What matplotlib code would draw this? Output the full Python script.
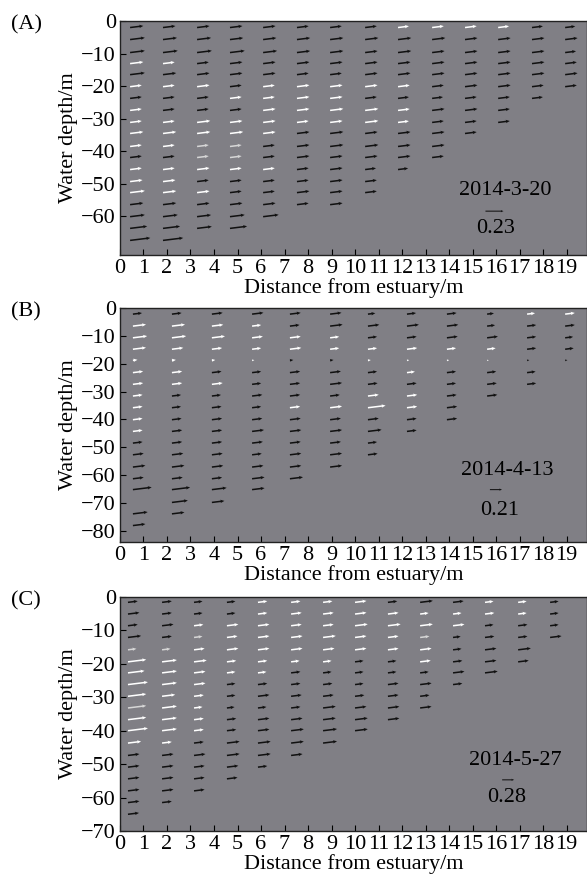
import matplotlib
matplotlib.use("Agg")
import matplotlib.pyplot as plt
import numpy as np

plt.rcParams['font.family'] = ['Liberation Serif', 'DejaVu Serif']
plt.rcParams['font.size'] = 16

nan = np.nan

# ---------------- panel A : 2014-3-20 ----------------
A_x = [0.43, 1.83, 3.28, 4.68, 6.09, 7.53, 8.94, 10.43, 11.83, 13.28, 14.68, 16.09, 17.53, 18.94]
A_depth = [-2.0, -5.7, -9.7, -13.1, -16.5, -20.2, -23.8, -27.5, -31.2, -34.6,
           -38.6, -42.0, -45.7, -49.4, -52.8, -56.5, -60.2, -63.8, -67.5]
A_speed = [
    [0.17, 0.19, 0.19, 0.17, 0.19, 0.15, 0.15, 0.15, 0.15, 0.17, 0.15, 0.15, 0.15, 0.16, 0.19, 0.17, 0.19, 0.22, 0.26],
    [0.16, 0.18, 0.19, 0.15, 0.17, 0.15, 0.15, 0.15, 0.15, 0.17, 0.15, 0.15, 0.15, 0.16, 0.17, 0.17, 0.19, 0.22, 0.26],
    [0.16, 0.18, 0.19, 0.15, 0.16, 0.16, 0.15, 0.15, 0.17, 0.17, 0.15, 0.15, 0.16, 0.15, 0.16, 0.16, 0.18, 0.19],
    [0.16, 0.17, 0.19, 0.16, 0.16, 0.15, 0.15, 0.15, 0.16, 0.17, 0.15, 0.15, 0.15, 0.15, 0.15, 0.16, 0.19, 0.22],
    [0.16, 0.17, 0.18, 0.16, 0.16, 0.15, 0.15, 0.16, 0.16, 0.16, 0.15, 0.15, 0.15, 0.15, 0.15, 0.16, 0.20],
    [0.15, 0.17, 0.17, 0.16, 0.15, 0.16, 0.16, 0.16, 0.15, 0.16, 0.16, 0.16, 0.15, 0.15, 0.16, 0.15],
    [0.15, 0.17, 0.17, 0.16, 0.15, 0.16, 0.16, 0.17, 0.16, 0.17, 0.17, 0.16, 0.16, 0.16, 0.16, 0.16],
    [0.15, 0.17, 0.16, 0.16, 0.16, 0.16, 0.15, 0.17, 0.17, 0.16, 0.17, 0.16, 0.14, 0.15, 0.15],
    [0.14, 0.17, 0.17, 0.16, 0.16, 0.15, 0.14, 0.15, 0.14, 0.16, 0.16, 0.16, 0.13],
    [0.15, 0.17, 0.16, 0.16, 0.16, 0.15, 0.14, 0.16, 0.15, 0.16, 0.16, 0.15],
    [0.15, 0.16, 0.16, 0.16, 0.16, 0.16, 0.15, 0.16, 0.15, 0.15],
    [0.14, 0.16, 0.16, 0.16, 0.16, 0.16, 0.15, 0.15, 0.15],
    [0.14, 0.16, 0.16, 0.16, 0.16, 0.15, 0.14],
    [0.13, 0.16, 0.14, 0.15, 0.16, 0.15],
]
A_color = [
    "BBBWBWBWWWWBWWWBBBB",
    "BBBWBWBBWWWBWWWBBBB",
    "BBBBBWBBWWLLWBWBBB",
    "BBBBBBWBWWLLWBBBBB",
    "BBBBBWWWWWBBWBBBB",
    "BBBBBWWWWBBBBBBB",
    "BBBBBWWWWBBBBBBB",
    "BBBBBWBWWBBBBBB",
    "WBBBBWBWWBBBB",
    "WBBBBBBBBBBB",
    "WBBBBBBBBB",
    "WBBBBBBBB",
    "BBBBBBB",
    "BBBBBB",
]
A_date = "2014-3-20"
A_ref = 0.23
A_yticks = [0, -10, -20, -30, -40, -50, -60]

# ---------------- panel B : 2014-4-13 ----------------
B_x = [0.55, 2.21, 3.91, 5.62, 7.23, 8.94, 10.55, 12.21, 13.91, 15.62, 17.32, 18.94]
B_depth = [-2.2, -6.5, -10.7, -14.8, -18.8, -23.2, -27.4, -31.6, -35.8, -40.1,
           -44.3, -48.5, -52.7, -57.1, -61.3, -65.2, -69.8, -73.9, -78.1]
B_speed = [
    [0.16, 0.23, 0.25, 0.23, 0.08, 0.18, 0.18, 0.17, 0.17, 0.17, 0.17, 0.17, 0.19, 0.22, 0.19, 0.33, nan, 0.26, 0.22],
    [0.17, 0.23, 0.25, 0.20, 0.07, 0.18, 0.18, 0.16, 0.16, 0.17, 0.18, 0.18, 0.20, 0.22, 0.19, 0.32, 0.28, 0.22],
    [0.19, 0.20, 0.23, 0.18, 0.06, 0.17, 0.19, 0.16, 0.17, 0.18, 0.18, 0.18, 0.19, 0.20, 0.18, 0.26, 0.22],
    [0.20, 0.16, 0.19, 0.16, 0.04, 0.16, 0.16, 0.18, 0.16, 0.18, 0.21, 0.19, 0.17, 0.20, 0.22, 0.22],
    [0.19, 0.17, 0.19, 0.20, 0.06, 0.18, 0.18, 0.18, 0.18, 0.19, 0.20, 0.19, 0.20, 0.20, 0.23],
    [0.20, 0.22, 0.16, 0.16, 0.06, 0.19, 0.21, 0.17, 0.21, 0.19, 0.21, 0.19, 0.21, 0.21],
    [0.13, 0.20, 0.16, 0.16, 0.05, 0.16, 0.17, 0.19, 0.31, 0.19, 0.24, 0.16, 0.17],
    [0.16, 0.21, 0.17, 0.18, 0.04, 0.14, 0.17, 0.18, 0.18, 0.17, 0.17],
    [0.17, 0.20, 0.19, 0.16, 0.04, 0.16, 0.16, 0.17, 0.18, 0.18],
    [0.12, 0.14, 0.19, 0.15, 0.03, 0.16, 0.17, 0.18],
    [0.14, 0.16, 0.16, 0.16, 0.04, 0.15, 0.16],
    [0.17, 0.17, 0.14, 0.15, 0.04],
]
B_color = [
    "BWWWWWWWWWWBBBBBBBB",
    "BWWWWWWBBBBBBBBBBB",
    "BWWWWBWBBBBBBBBBB",
    "BWWWWBBBBBBBBBBB",
    "BBWWBBBBWBBBBBB",
    "BBWWBBBBWBBBBB",
    "BBBWWBBWWBBBB",
    "BBBWWWBWWBB",
    "BBBWWBBBBB",
    "BBBWWBBB",
    "WBBBBBB",
    "WBBBB",
]
B_date = "2014-4-13"
B_ref = 0.21
B_yticks = [0, -10, -20, -30, -40, -50, -60, -70, -80]

# ---------------- panel C : 2014-5-27 ----------------
C_x = [0.34, 1.79, 3.15, 4.55, 5.87, 7.28, 8.64, 10.0, 11.40, 12.77, 14.17, 15.53, 16.94, 18.30]
C_depth = [-1.6, -5.1, -8.6, -12.1, -15.8, -19.4, -22.7, -26.2, -29.7, -33.2,
           -36.7, -40.0, -43.7, -47.4, -50.9, -54.4, -58.0, -61.5, -65.0]
C_speed = [
    [0.23, 0.27, 0.23, 0.31, 0.20, 0.43, 0.39, 0.47, 0.43, 0.43, 0.43, 0.47, 0.31, 0.27, 0.27, 0.27, 0.27, 0.27, 0.26],
    [0.23, 0.23, 0.27, 0.23, 0.20, 0.35, 0.35, 0.35, 0.31, 0.35, 0.35, 0.35, 0.23, 0.27, 0.27, 0.27, 0.27, 0.23],
    [0.20, 0.20, 0.22, 0.20, 0.25, 0.30, 0.27, 0.27, 0.23, 0.20, 0.23, 0.23, 0.23, 0.27, 0.25, 0.25, 0.25],
    [0.20, 0.20, 0.27, 0.25, 0.27, 0.22, 0.20, 0.20, 0.20, 0.18, 0.22, 0.22, 0.30, 0.30, 0.27, 0.25],
    [0.22, 0.22, 0.27, 0.27, 0.27, 0.22, 0.20, 0.22, 0.27, 0.20, 0.27, 0.27, 0.30, 0.30, 0.22],
    [0.22, 0.25, 0.25, 0.27, 0.27, 0.20, 0.22, 0.22, 0.25, 0.22, 0.27, 0.30, 0.30, 0.27],
    [0.22, 0.25, 0.25, 0.30, 0.27, 0.20, 0.20, 0.22, 0.25, 0.30, 0.30, 0.33, 0.33],
    [0.27, 0.27, 0.30, 0.27, 0.27, 0.20, 0.20, 0.20, 0.22, 0.27, 0.30, 0.30],
    [0.22, 0.25, 0.30, 0.25, 0.25, 0.20, 0.20, 0.25, 0.25, 0.27, 0.27],
    [0.30, 0.20, 0.30, 0.22, 0.27, 0.25, 0.20, 0.27, 0.22, 0.27],
    [0.25, 0.20, 0.27, 0.18, 0.20, 0.22, 0.27, 0.22],
    [0.20, 0.22, 0.20, 0.22, 0.27, 0.27, 0.30],
    [0.20, 0.20, 0.22, 0.22, 0.30, 0.25],
    [0.20, 0.20, 0.20, 0.27],
]
C_color = [
    "BBBBLWWWWLWWWBBBBBB",
    "BBBBLWWWWWWWWBBBBB",
    "BBWLWWWWWWWWBBBBB",
    "BBWWWWWBBBBBBBBB",
    "WWWWWWWBBBBBBBB",
    "WWWWWWBBBBBBBB",
    "WWWWWWBBBBBBB",
    "WWWWWBBBBBBB",
    "BWWWWBBBBBB",
    "BWWLWWBBBB",
    "BWWBBBBB",
    "WWBBBBB",
    "WWBBBB",
    "BBBB",
]
C_date = "2014-5-27"
C_ref = 0.28
C_yticks = [0, -10, -20, -30, -40, -50, -60, -70]

# ---------------- styling ----------------
BG = '#807f85'
ARROW_COLORS = {'B': '#111111', 'W': '#ffffff', 'L': '#d6d6d6'}
ANGLE = np.deg2rad(7)
ARROW_KW = dict(angles='uv', scale_units='x', pivot='tail', zorder=3,
                headwidth=2.2, headlength=2.6, headaxislength=2.3)

panels = [
    # label, x, depth, speed, colour, date, ref, yticks, ylim, quiver scale,
    # axes rect, ref arrow pos, date text pos, ref text pos
    ("(A)", A_x, A_depth, A_speed, A_color, A_date, A_ref, A_yticks, (-72, 0), 0.30,
     [0.2044, 0.7102, 0.7956, 0.2659], (15.55, -58.5), (16.38, -52.0), (16.0, -63.7)),
    ("(B)", B_x, B_depth, B_speed, B_color, B_date, B_ref, B_yticks, (-84, 0), 0.41,
     [0.2044, 0.3841, 0.7956, 0.2659], (15.74, -65.2), (16.47, -58.4), (16.17, -72.8)),
    ("(C)", C_x, C_depth, C_speed, C_color, C_date, C_ref, C_yticks, (-70, 0), 0.55,
     [0.2044, 0.0557, 0.7956, 0.2659], (16.26, -54.7), (16.81, -48.8), (16.47, -60.1)),
]

fig = plt.figure(figsize=(5.87, 8.8), dpi=100)

for (label, xs, depth, speed, colour, date, ref, yticks, ylim, qscale,
     rect, ref_pos, date_pos, reftxt_pos) in panels:
    ax = fig.add_axes(rect)
    ax.set_facecolor(BG)

    X, Y, U, V, C = [], [], [], [], []
    for xi, col_s, col_c in zip(xs, speed, colour):
        for d, s, c in zip(depth, col_s, col_c):
            if np.isnan(s):
                continue
            X.append(xi)
            Y.append(d)
            U.append(s * np.cos(ANGLE))
            V.append(s * np.sin(ANGLE))
            C.append(ARROW_COLORS[c])

    ax.quiver(X, Y, U, V, color=C, scale=qscale, width=0.0033, **ARROW_KW)

    # reference arrow
    ax.quiver([ref_pos[0]], [ref_pos[1]], [ref], [0], color='#111111',
              scale=qscale, width=0.0022, **ARROW_KW)
    ax.text(date_pos[0], date_pos[1], date, ha='center', va='center', fontsize=16)
    ax.text(reftxt_pos[0], reftxt_pos[1], f"{ref:.2f}", ha='center', va='center', fontsize=16)

    ax.set_xlim(0, 19.87)
    ax.set_ylim(*ylim)
    ax.set_xticks(range(20))
    ax.set_yticks(yticks)
    ax.tick_params(direction='in', length=4, width=0.8, pad=3, labelsize=16)
    for sp in ax.spines.values():
        sp.set_linewidth(1.0)
        sp.set_color('#222222')
    ax.set_xlabel("Distance from estuary/m", fontsize=16, labelpad=0)
    ax.set_ylabel("Water depth/m", fontsize=16, labelpad=2)

    # panel letter
    top_px = (1 - (rect[1] + rect[3])) * 880
    fig.text(26 / 587, 1 - (top_px + 4) / 880, label, ha='center', va='center', fontsize=16)

fig.savefig("out.png", dpi=100, facecolor='white')
